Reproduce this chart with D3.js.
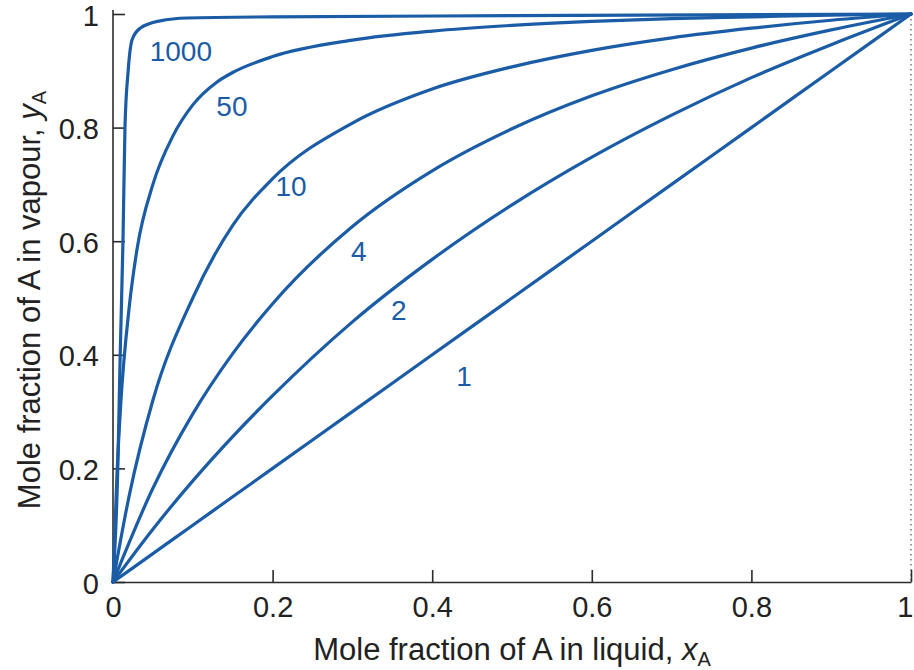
<!DOCTYPE html>
<html>
<head>
<meta charset="utf-8">
<script src="https://cdn.jsdelivr.net/npm/d3@7"></script>
<style>
    body { margin: 0; background: #fff; }
    svg { display: block; font-family: "Liberation Sans", Arial, Helvetica, sans-serif; }
</style>
</head>
<body>
<div id="chart"></div>
<script>
// Curves: vapour mole fraction y_A against liquid mole fraction x_A
const factors = ["1", "2", "4", "10", "50", "1000"];

const xLow = [0, 0.05, 0.1, 0.15, 0.2, 0.3, 0.4, 0.5, 0.6, 0.7, 0.8, 0.9, 1];
const yAlpha1 = [0, 0.05, 0.1, 0.15, 0.2, 0.3, 0.4, 0.5, 0.6, 0.7, 0.8, 0.9, 1];
const yAlpha2 = [0, 0.093, 0.178, 0.256, 0.328, 0.458, 0.568, 0.664, 0.748, 0.822, 0.888, 0.946, 1];
const yAlpha4 = [0, 0.165, 0.296, 0.402, 0.49, 0.626, 0.724, 0.798, 0.856, 0.902, 0.94, 0.972, 1];

const xAlpha10 = [0, 0.02, 0.05, 0.1, 0.15, 0.2, 0.3, 0.4, 0.5, 0.6, 0.7, 0.8, 0.9, 1];
const yAlpha10 = [0, 0.15, 0.32, 0.5, 0.628, 0.71, 0.808, 0.868, 0.907, 0.936, 0.958, 0.975, 0.989, 1];

const xAlpha50 = [0, 0.005, 0.01, 0.02, 0.03, 0.05, 0.075, 0.1, 0.13, 0.15, 0.2, 0.3, 0.4, 0.5, 0.6, 0.7, 0.8, 0.9, 1];
const yAlpha50 = [0, 0.19, 0.32, 0.48, 0.585, 0.7, 0.785, 0.84, 0.88, 0.897, 0.925, 0.954, 0.97, 0.98, 0.987, 0.992, 0.995, 0.998, 1];

const xAlpha1000 = [0, 0.006, 0.009, 0.0125, 0.015, 0.019, 0.024, 0.034, 0.059, 0.093, 0.2, 0.5, 1];
const yAlpha1000 = [0, 0.2, 0.4, 0.6, 0.8, 0.9, 0.955, 0.975, 0.988, 0.993, 0.995, 0.997, 1];

// label anchors in data units
const labelX = [0.44, 0.358, 0.308, 0.223, 0.149, 0.085];
const labelY = [0.363, 0.479, 0.583, 0.697, 0.838, 0.935];

const axisTicks = [0, 0.2, 0.4, 0.6, 0.8, 1];

const series = [
    { name: factors[0], x: xLow, y: yAlpha1 },
    { name: factors[1], x: xLow, y: yAlpha2 },
    { name: factors[2], x: xLow, y: yAlpha4 },
    { name: factors[3], x: xAlpha10, y: yAlpha10 },
    { name: factors[4], x: xAlpha50, y: yAlpha50 },
    { name: factors[5], x: xAlpha1000, y: yAlpha1000 }
];

const width = 914;
const height = 670;
const margin = { top: 14, right: 3, bottom: 88, left: 113 };
const curveColor = "#1b5ca6";
const axisColor = "#2b2b2b";
const fontSize = 29;
const titleSize = 31;

const svg = d3.select("#chart").append("svg")
    .attr("width", width)
    .attr("height", height);

const x = d3.scaleLinear().domain([0, 1]).range([margin.left, width - margin.right]);
const y = d3.scaleLinear().domain([0, 1]).range([height - margin.bottom, margin.top]);

const fmt = d => String(+d.toFixed(1));

// dotted line at x = 1
svg.append("line")
    .attr("x1", x(1)).attr("x2", x(1))
    .attr("y1", y(1)).attr("y2", y(0))
    .attr("stroke", "#777")
    .attr("stroke-width", 1.5)
    .attr("stroke-dasharray", "1.5,3.5");

// x axis
const xAxis = svg.append("g")
    .attr("transform", `translate(0,${y(0)})`)
    .call(d3.axisBottom(x).tickValues(axisTicks).tickFormat(fmt)
        .tickSizeInner(-12).tickSizeOuter(0).tickPadding(14));

// y axis
const yAxis = svg.append("g")
    .attr("transform", `translate(${x(0)},0)`)
    .call(d3.axisLeft(y).tickValues(axisTicks).tickFormat(fmt)
        .tickSizeInner(-12).tickSizeOuter(0).tickPadding(14));

yAxis.select(".domain").remove();
yAxis.append("line")
    .attr("y1", y(1) - 4).attr("y2", y(0))
    .attr("stroke", axisColor)
    .attr("stroke-width", 1.6);

[xAxis, yAxis].forEach(g => {
    g.selectAll(".domain").attr("stroke", axisColor).attr("stroke-width", 1.6);
    g.selectAll(".tick line").attr("stroke", axisColor).attr("stroke-width", 1.6);
    g.selectAll(".tick text")
        .attr("fill", "#222")
        .style("font-size", fontSize + "px")
        .style("font-family", "'Liberation Sans', Arial, sans-serif");
});
yAxis.selectAll(".tick text").attr("dy", "0.38em");

// last x label sits on the right edge of the page
xAxis.selectAll(".tick text")
    .filter(d => d === 1)
    .attr("text-anchor", "end")
    .attr("x", 2);

// curves
const line = d3.line()
    .x(d => x(d[0]))
    .y(d => y(d[1]))
    .curve(d3.curveMonotoneX);

svg.append("g")
    .selectAll("path")
    .data(series)
    .enter().append("path")
    .attr("d", s => line(s.x.map((v, i) => [v, s.y[i]])))
    .attr("fill", "none")
    .attr("stroke", curveColor)
    .attr("stroke-width", 3.2)
    .attr("stroke-linejoin", "round")
    .attr("stroke-linecap", "round");

// curve labels
svg.append("g")
    .selectAll("text")
    .data(factors)
    .enter().append("text")
    .attr("x", (d, i) => x(labelX[i]))
    .attr("y", (d, i) => y(labelY[i]))
    .attr("dy", "0.36em")
    .attr("text-anchor", "middle")
    .attr("fill", curveColor)
    .style("font-size", "28px")
    .text(d => d);

// axis titles
const xTitle = svg.append("text")
    .attr("x", (x(0) + x(1)) / 2)
    .attr("y", 660)
    .attr("text-anchor", "middle")
    .attr("fill", "#222")
    .style("font-size", titleSize + "px");
xTitle.append("tspan").text("Mole fraction of A in liquid, ");
xTitle.append("tspan").style("font-style", "italic").text("x");
xTitle.append("tspan").attr("dy", "0.3em").style("font-size", "20px").text("A");

const yTitle = svg.append("text")
    .attr("transform", `translate(40,${(y(0) + y(1)) / 2 + 2}) rotate(-90)`)
    .attr("text-anchor", "middle")
    .attr("fill", "#222")
    .style("font-size", titleSize + "px");
yTitle.append("tspan").text("Mole fraction of A in vapour, ");
yTitle.append("tspan").style("font-style", "italic").text("y");
yTitle.append("tspan").attr("dy", "0.3em").style("font-size", "20px").text("A");
</script>
</body>
</html>
